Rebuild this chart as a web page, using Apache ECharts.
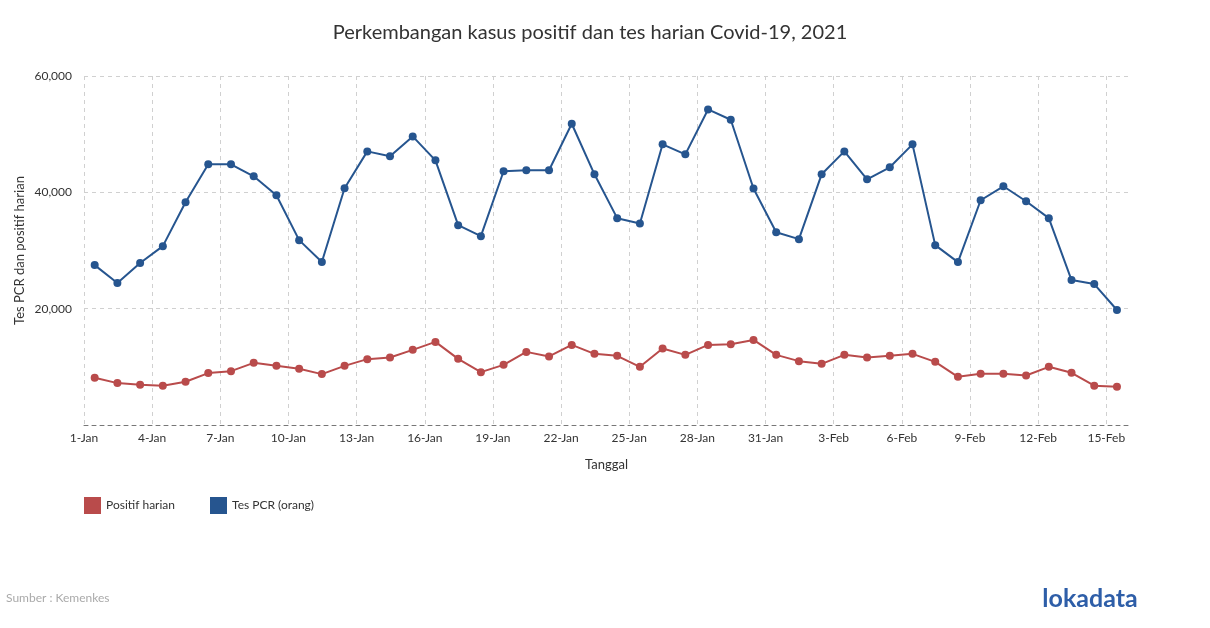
<!DOCTYPE html>
<html>
<head>
<meta charset="utf-8">
<script src="https://cdn.jsdelivr.net/npm/echarts@6/dist/echarts.min.js"></script>
<style>html,body{margin:0;padding:0;background:#fff}#c{width:1210px;height:628px}</style>
</head>
<body>
<div id="c"></div>
<script>
var startDate = '2021-01-01';
var dates = ['2021-01-01','2021-01-02','2021-01-03','2021-01-04','2021-01-05','2021-01-06','2021-01-07','2021-01-08','2021-01-09','2021-01-10',
  '2021-01-11','2021-01-12','2021-01-13','2021-01-14','2021-01-15','2021-01-16','2021-01-17','2021-01-18','2021-01-19','2021-01-20',
  '2021-01-21','2021-01-22','2021-01-23','2021-01-24','2021-01-25','2021-01-26','2021-01-27','2021-01-28','2021-01-29','2021-01-30',
  '2021-01-31','2021-02-01','2021-02-02','2021-02-03','2021-02-04','2021-02-05','2021-02-06','2021-02-07','2021-02-08','2021-02-09',
  '2021-02-10','2021-02-11','2021-02-12','2021-02-13','2021-02-14','2021-02-15'];
var tesPCR = [27490,24400,27840,30750,38300,44820,44820,42760,39500,31780,
  28010,40700,47040,46190,49620,45500,34350,32470,43620,43790,
  43790,51790,43100,35560,34640,48250,46530,54250,52480,40650,
  33150,31950,43100,47040,42240,44300,48250,30920,28010,38640,
  41040,38470,35560,24920,24230,19770];
var positif = [8110,7200,6920,6750,7430,8920,9260,10690,10170,9660,
  8750,10170,11320,11610,12920,14290,11370,9090,10340,12570,
  11780,13770,12230,11890,10000,13150,12060,13770,13890,14630,
  12060,10980,10510,12060,11610,11890,12230,10860,8280,8800,
  8800,8520,10000,8970,6750,6570];
var monthNames = ['Jan','Feb','Mar','Apr','May','Jun','Jul','Aug','Sep','Oct','Nov','Dec'];
var yTicks = [0, 20000, 40000, 60000];

var DAY = 86400000;
var t0 = Date.parse(startDate + 'T00:00:00Z');
function dayIndex(s){ return (Date.parse(s + 'T00:00:00Z') - t0) / DAY; }
var HALF = 0.47;
function fmtDay(v){
  var d = new Date(t0 + Math.round(v) * DAY);
  return d.getUTCDate() + '-' + monthNames[d.getUTCMonth()];
}
function pairs(vals){ return dates.map(function(s,i){ return [dayIndex(s) + HALF, vals[i]]; }); }

var red = '#b94b4b', blue = '#26558f';
var chart = echarts.init(document.getElementById('c'));
chart.setOption({
  animation: false,
  textStyle: {fontFamily: 'Lato'},
  grid: {left: 84, right: 81, top: 76, bottom: 203, containLabel: false},
  graphic: [
    {type: 'text', style: {text: 'Perkembangan kasus positif dan tes harian Covid-19, 2021', x: 590, y: 33, align: 'center', verticalAlign: 'middle', fontSize: 20, fontFamily: 'Lato', fill: '#333'}},
    {type: 'text', style: {text: 'Sumber : Kemenkes', x: 6, y: 598, verticalAlign: 'middle', fontSize: 12, fontFamily: 'Lato', fill: '#aaa'}},
    {type: 'text', style: {text: 'lokadata', x: 1090, y: 599, align: 'center', verticalAlign: 'middle', fontSize: 25, fontWeight: 'bold', fontFamily: 'Lato', fill: '#2e5ea8'}}
  ],
  legend: {
    left: 79, top: 492, itemWidth: 17, itemHeight: 17, itemGap: 35, icon: 'rect',
    textStyle: {fontSize: 12, color: '#333', fontFamily: 'Lato'},
    data: ['Positif harian', 'Tes PCR (orang)']
  },
  xAxis: {
    type: 'value', min: 0, max: dates.length, interval: 3,
    name: 'Tanggal', nameLocation: 'middle', nameGap: 33,
    nameTextStyle: {fontSize: 13, color: '#333', fontFamily: 'Lato'},
    axisLine: {show: true, lineStyle: {color: '#777', type: [4, 4], width: 1}},
    axisTick: {show: false},
    axisLabel: {fontSize: 12, color: '#333', margin: 7, showMaxLabel: false, formatter: function(v){ return v % 3 === 0 ? fmtDay(v) : ''; }},
    splitLine: {show: true, showMaxLine: false, lineStyle: {color: '#d0d0d0', type: [4, 4]}}
  },
  yAxis: {
    type: 'value', min: yTicks[0], max: yTicks[yTicks.length - 1], interval: yTicks[1] - yTicks[0],
    name: 'Tes PCR dan positif harian', nameLocation: 'middle', nameGap: 58, nameRotate: 90, nameMoveOverlap: false,
    nameTextStyle: {fontSize: 13, color: '#333', fontFamily: 'Lato'},
    axisLine: {show: false}, axisTick: {show: false},
    axisLabel: {fontSize: 12, color: '#333', margin: 12, showMinLabel: false,
      formatter: function(v){ return v.toLocaleString('en-US'); }},
    splitLine: {show: true, showMinLine: false, lineStyle: {color: '#d0d0d0', type: [4, 4]}}
  },
  series: [
    {name: 'Tes PCR (orang)', type: 'line', data: pairs(tesPCR), symbol: 'circle', symbolSize: 8, showSymbol: true,
      itemStyle: {color: blue}, lineStyle: {color: blue, width: 2}},
    {name: 'Positif harian', type: 'line', data: pairs(positif), symbol: 'circle', symbolSize: 8, showSymbol: true,
      itemStyle: {color: red}, lineStyle: {color: red, width: 2}}
  ]
});
</script>
</body>
</html>
